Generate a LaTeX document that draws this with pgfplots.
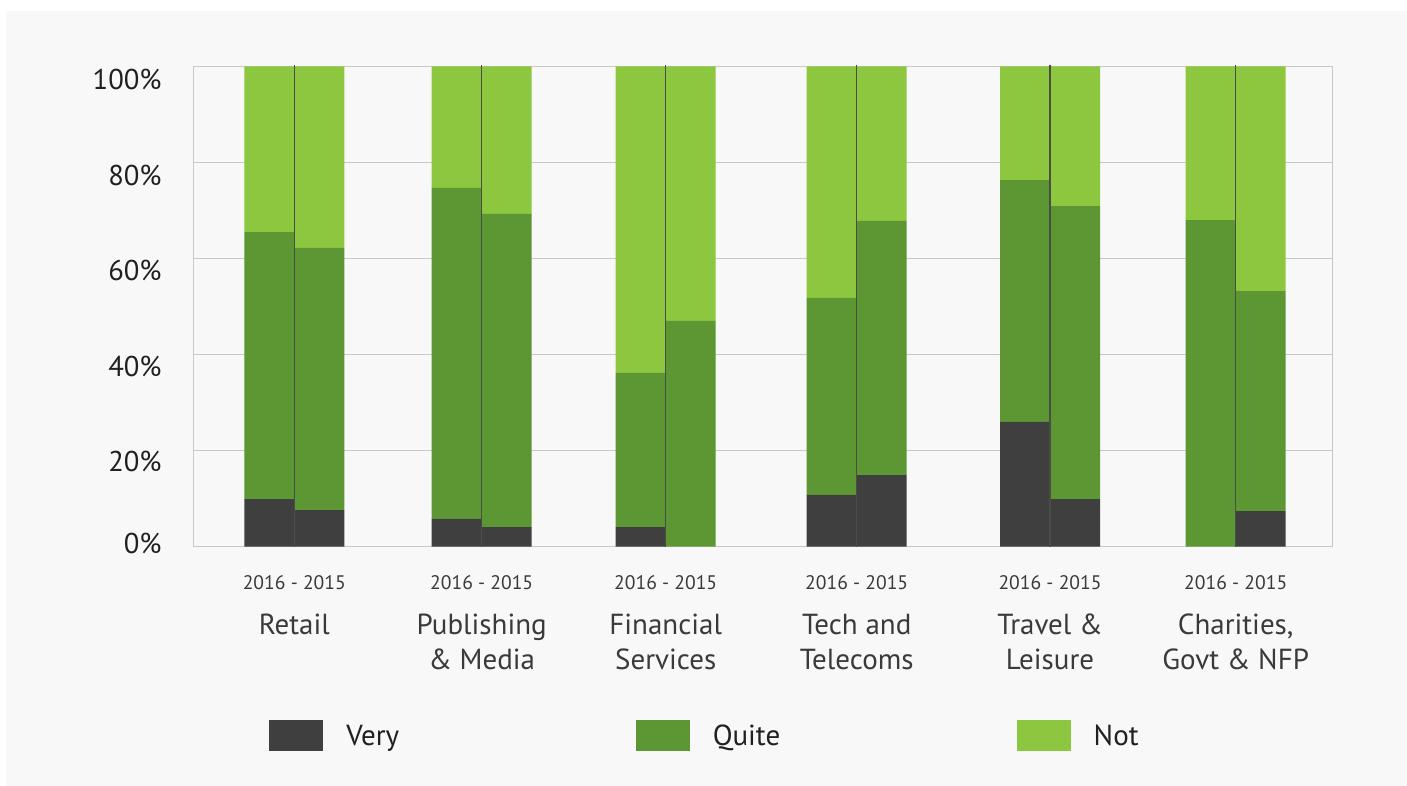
\documentclass[border=0pt]{standalone}
\usepackage{pgfplots}
\pgfplotsset{compat=1.18}
\usepackage{fontspec}
\setmainfont{PT Sans}
\definecolor{panel}{HTML}{F8F8F8}
\definecolor{ink}{HTML}{231F20}
\definecolor{txt}{HTML}{3A3A3A}
\definecolor{rule}{HTML}{C8C8C8}
\definecolor{very}{HTML}{3F3F3F}
\definecolor{quite}{HTML}{5C9733}
\definecolor{notc}{HTML}{8DC63F}
\definecolor{sep}{HTML}{4A4F45}
\tikzset{catl/.style={anchor=north, align=center, inner sep=0pt, yshift=-33.5pt,
  font=\fontsize{14.5}{17.5}\selectfont, text=txt}}
\begin{document}
\begin{tikzpicture}
\fill[white] (0pt,0pt) rectangle (703.5pt,-393pt);
\fill[panel] (3pt,-5.5pt) rectangle (703.5pt,-393pt);
\useasboundingbox (0pt,0pt) rectangle (703.5pt,-393pt);
\begin{axis}[
  at={(96.85pt,-273.35pt)}, anchor=south west,
  scale only axis, width=569.3pt, height=240.2pt,
  ybar stacked, bar width=50,
  xmin=193.7, xmax=1332.3, ymin=0, ymax=100,
  axis line style={draw=rule, line width=0.75pt},
  ytick={0,20,...,100}, yticklabels={}, ymajorgrids,
  grid style={draw=rule, line width=0.75pt},
  major tick length=0pt,
  extra y ticks={0.6,17.8,37.6,57.5,77.3,97.2},
  extra y tick labels={0\%,20\%,40\%,60\%,80\%,100\%},
  extra y tick style={grid=none, major tick length=0pt,
    yticklabel style={anchor=east, inner sep=0pt, xshift=-15.85pt,
      font=\fontsize{14.3}{17}\selectfont, text=ink}},
  xtick={294.3,481.7,665.7,856.7,1050,1235.7},
  xticklabel={2016 - 2015},
  xticklabel style={anchor=north, inner sep=0pt, yshift=-14.2pt,
    font=\fontsize{9.8}{11}\selectfont, text=txt},
  clip=false,
  legend columns=3,
  legend image code/.code={\fill[#1] (0pt,-7.25pt) rectangle (27pt,8.25pt);},
  legend style={at={(0.0661,-0.3951)}, anchor=west, draw=none, fill=none,
    inner sep=0pt, font=\fontsize{14.5}{16}\selectfont, text=ink,
    /tikz/every odd column/.append style={column sep=9.5pt},
    /tikz/every even column/.append style={column sep=116.25pt}},
]
\addplot[fill=very, draw=none] coordinates {(269.3,9.9) (319.3,7.6) (456.7,5.8) (506.7,4.1) (640.7,4.1) (690.7,0) (831.7,10.8) (881.7,14.9) (1025,26.0) (1075,9.9) (1210.7,0) (1260.7,7.4)};
\addplot[fill=quite, draw=none] coordinates {(269.3,55.6) (319.3,54.6) (456.7,68.9) (506.7,65.2) (640.7,32.1) (690.7,47.0) (831.7,41.0) (881.7,52.9) (1025,50.3) (1075,61.0) (1210.7,68.0) (1260.7,45.8)};
\addplot[fill=notc, draw=none] coordinates {(269.3,34.5) (319.3,37.8) (456.7,25.3) (506.7,30.7) (640.7,63.8) (690.7,53.0) (831.7,48.2) (881.7,32.2) (1025,23.7) (1075,29.1) (1210.7,32.0) (1260.7,46.8)};
\legend{Very,Quite,Not}
% feet of the thin dividers between the 2016 and 2015 bars
\coordinate (s1) at (axis cs:294.3,0);
\coordinate (s2) at (axis cs:481.7,0);
\coordinate (s3) at (axis cs:665.7,0);
\coordinate (s4) at (axis cs:856.7,0);
\coordinate (s5) at (axis cs:1050,0);
\coordinate (s6) at (axis cs:1235.7,0);
\node[catl] at (axis cs:294.3,0) {Retail};
\node[catl] at (axis cs:481.7,0) {Publishing\\\& Media};
\node[catl] at (axis cs:665.7,0) {Financial\\Services};
\node[catl] at (axis cs:856.7,0) {Tech and\\Telecoms};
\node[catl] at (axis cs:1050,0) {Travel \&\\Leisure};
\node[catl] at (axis cs:1235.7,0) {Charities,\\Govt \& NFP};
\end{axis}
\foreach \i in {1,...,6}
  \draw[sep, line width=0.7pt] (s\i) -- ++(0,240.9pt);
\end{tikzpicture}
\end{document}
